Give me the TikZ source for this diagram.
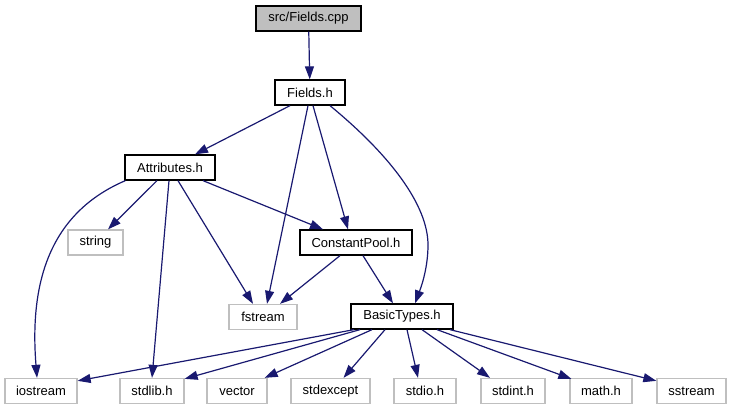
\documentclass[tikz,border=0pt]{standalone}
\usepackage{fontspec}
\setmainfont{Liberation Sans}
\usetikzlibrary{arrows.meta,calc}
\definecolor{edgeblue}{HTML}{191970}
\definecolor{lgray}{HTML}{BFBFBF}
\begin{document}
\begin{tikzpicture}[x=1pt,y=-1pt,
  nb/.style={draw=black,line width=1.3pt,fill=white,minimum height=25pt,inner sep=0pt,font=\fontsize{13}{15}\selectfont},
  gb/.style={nb,draw=lgray},
  edge/.style={draw=edgeblue,line width=1.2pt,-{Triangle[length=13pt,width=9pt]}}]
\useasboundingbox (0,0) rectangle (732,411);
% nodes
\node[nb,fill=lgray,minimum width=105pt] (cpp) at (308.5,18.5) {src/Fields.cpp};
\node[nb,minimum width=70pt] (fh) at (310,92.5) {Fields.h};
\node[nb,minimum width=90pt] (attr) at (170,167.5) {Attributes.h};
\node[gb,minimum width=55pt] (string) at (95.5,242.5) {string};
\node[nb,minimum width=112pt] (cp) at (356,242.5) {ConstantPool.h};
\node[gb,minimum width=68pt] (fstream) at (263,317) {fstream};
\node[nb,minimum width=102pt] (bt) at (402,316.5) {BasicTypes.h};
\node[gb,minimum width=72pt] (iostream) at (41,391) {iostream};
\node[gb,minimum width=64pt] (stdlib) at (152,391) {stdlib.h};
\node[gb,minimum width=60pt] (vector) at (237,391) {vector};
\node[gb,minimum width=79pt] (stdexcept) at (330.5,391) {stdexcept};
\node[gb,minimum width=62pt] (stdio) at (425,391) {stdio.h};
\node[gb,minimum width=64pt] (stdint) at (513,391) {stdint.h};
\node[gb,minimum width=62pt] (math) at (601,391) {math.h};
\node[gb,minimum width=69pt] (sstream) at (691.5,391) {sstream};
% edges
\draw[edge] (cpp) -- (fh);
\draw[edge] ($(fh.south)+(-20,0)$) -- ($(attr.north)+(25,0)$);
\draw[edge] ($(fh.south)+(-2,0)$) -- ($(fstream.north)+(4,0)$);
\draw[edge] ($(fh.south)+(3,0)$) -- ($(cp.north)+(-8,0)$);
\draw[edge] ($(fh.south)+(20,0)$) .. controls (390,155) and (428,205) .. (428,245)
  .. controls (428,270) and (420,290) .. ($(bt.north)+(13,0)$);
\draw[edge] ($(attr.south west)+(1,0)$) .. controls (45,215) and (30,290) .. ($(iostream.north)+(-4,0)$);
\draw[edge] ($(attr.south)+(-13,0)$) -- ($(string.north)+(12.5,0)$);
\draw[edge] ($(attr.south)+(-1,0)$) -- (stdlib.north);
\draw[edge] ($(attr.south)+(8,0)$) -- ($(fstream.north)+(-10,0)$);
\draw[edge] ($(attr.south)+(33,0)$) -- ($(cp.north)+(-33,0)$);
\draw[edge] ($(cp.south)+(-16,0)$) -- ($(fstream.north)+(17,0)$);
\draw[edge] ($(cp.south)+(7,0)$) -- ($(bt.north)+(-9,0)$);
\draw[edge] ($(bt.south)+(-48,0)$) -- ($(iostream.north east)+(0,3)$);
\draw[edge] ($(bt.south)+(-42,0)$) -- ($(stdlib.north east)+(0,1)$);
\draw[edge] ($(bt.south)+(-30,0)$) -- ($(vector.north east)+(-3,0)$);
\draw[edge] ($(bt.south)+(-17,0)$) -- ($(stdexcept.north)+(13,0)$);
\draw[edge] ($(bt.south)+(5,0)$) -- ($(stdio.north)+(-7,0)$);
\draw[edge] ($(bt.south)+(20,0)$) -- ($(stdint.north)+(-23,0)$);
\draw[edge] ($(bt.south)+(35,0)$) -- ($(math.north west)+(2,1)$);
\draw[edge] ($(bt.south)+(48,0)$) -- ($(sstream.north west)+(0,3)$);
\end{tikzpicture}
\end{document}
